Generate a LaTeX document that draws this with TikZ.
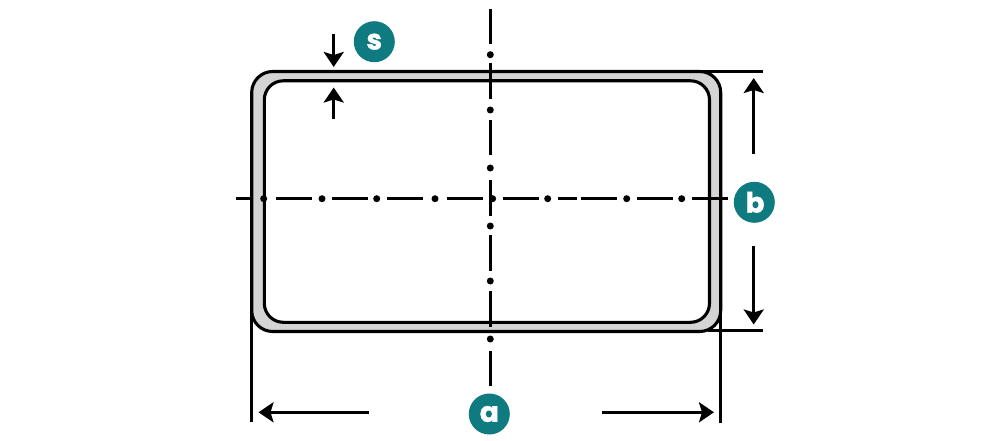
\documentclass[tikz,border=0pt]{standalone}
\usepackage{fontspec}
\setmainfont{Poppins}[BoldFeatures={FakeBold=1.2}]
\usetikzlibrary{arrows.meta}
\definecolor{tealc}{HTML}{0F7A80}
\definecolor{wallc}{HTML}{D4D4D4}
\tikzset{
  wall/.style={draw=black,line width=3.1pt},
  centreline/.style={draw=black,line width=3pt},
  centredot/.style={circle,fill=black,inner sep=0pt,minimum size=7pt},
  extline/.style={draw=black,line width=3pt},
  dimarrow/.style={draw=black,line width=3pt,-{Stealth[length=15pt,width=20pt,inset=3pt]}},
  badge/.style={circle,fill=tealc,text=white,inner sep=0pt,minimum size=41pt,font=\fontsize{28}{28}\selectfont\bfseries}
}
\begin{document}
\begin{tikzpicture}[x=1pt,y=-1pt]
\useasboundingbox (0,0) rectangle (1000,441);
\fill[white] (0,0) rectangle (1000,441);
% tube wall
\draw[wall,fill=wallc,rounded corners=21pt] (251.7,71.5) rectangle (720.7,331.5);
\draw[wall,fill=white,rounded corners=19pt] (264.3,80.8) rectangle (709.5,322.3);
% centre lines
\foreach \a/\b in {9/44,63/99,120/155,180/215.7,235/270.7,291/326.7,351/386}
  \draw[centreline] (490.3,\a) -- (490.3,\b);
\foreach \y in {54.7,110,168,226,281,339}
  \node[centredot] at (490.3,\y) {};
\foreach \a/\b in {236/252,276/312,332/368,387/423,447/483,503/539,558/577,581/617,637/673,692/728}
  \draw[centreline] (\a,198.7) -- (\b,198.7);
\foreach \x in {263.7,322,376.7,435,492.6,547.7,626.7,681.7}
  \node[centredot] at (\x,198.7) {};
% badges
\node[badge] (s) at (374.3,41.7) {s};
\node[badge] (b) at (754.3,202.3) {\hspace{1.5pt}b};
\node[badge] (a) at (489.3,414) {a};
% extension lines
\coordinate (tl) at (700,72);
\coordinate (tr) at (762.7,72);
\coordinate (br1) at (708,330);
\coordinate (br2) at (762.7,330);
\coordinate (al1) at (251.7,305);
\coordinate (al2) at (251.7,421.7);
\coordinate (ar1) at (720.4,310);
\coordinate (ar2) at (720.4,422.7);
\draw[extline] (tl) -- (tr);
\draw[extline] (br1) -- (br2);
\draw[extline] (al1) -- (al2);
\draw[extline] (ar1) -- (ar2);
% dimension arrows
\coordinate (s1) at (333.7,34);
\coordinate (s2) at (333.7,67);
\coordinate (s3) at (333.7,119);
\coordinate (s4) at (333.7,87.5);
\draw[dimarrow] (s1) -- (s2);
\draw[dimarrow] (s3) -- (s4);
\coordinate (b1) at (753.7,154);
\coordinate (b2) at (753.7,78);
\coordinate (b3) at (753.7,246);
\coordinate (b4) at (753.7,324.5);
\draw[dimarrow] (b1) -- (b2);
\draw[dimarrow] (b3) -- (b4);
\coordinate (a1) at (368.7,412.3);
\coordinate (a2) at (258.5,412.3);
\coordinate (a3) at (602,412.3);
\coordinate (a4) at (714,412.3);
\draw[dimarrow] (a1) -- (a2);
\draw[dimarrow] (a3) -- (a4);
\end{tikzpicture}
\end{document}
